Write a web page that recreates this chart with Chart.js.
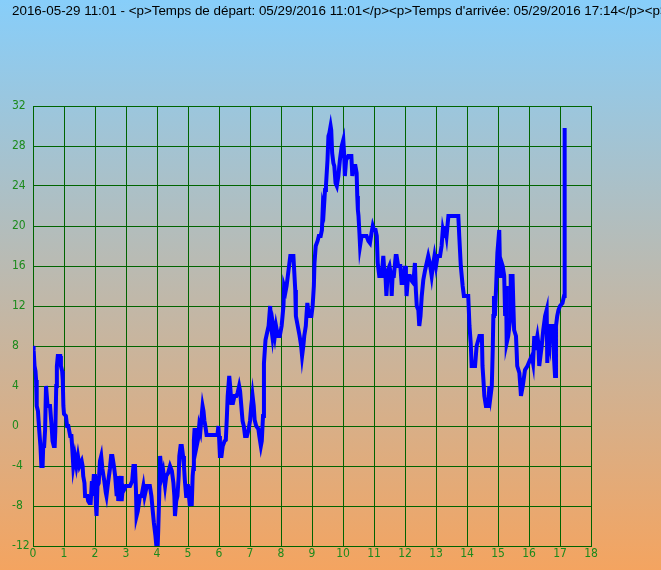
<!DOCTYPE html>
<html>
<head>
<meta charset="utf-8">
<script src="https://cdn.jsdelivr.net/npm/chart.js@4/dist/chart.umd.min.js"></script>
<style>
    html, body { margin: 0; padding: 0; background: #f4a460; }
    #wrap { width: 661px; height: 570px; }
</style>
</head>
<body>
<div id="wrap"><canvas id="chart" width="661" height="570"></canvas></div>
<script>
// ----- DATA -----
const titleText = "2016-05-29 11:01 - <p>Temps de départ: 05/29/2016 11:01</p><p>Temps d'arrivée: 05/29/2016 17:14</p><p>";

// elapsed time in hours
const hours = [
    0.0, 0.02, 0.05, 0.08, 0.1, 0.12, 0.16, 0.2, 0.24, 0.27, 0.31, 0.33, 0.36, 0.39, 0.42, 0.45, 0.47, 0.52, 0.55, 0.6,
    0.63, 0.67, 0.7, 0.72, 0.75, 0.77, 0.8, 0.88, 0.9, 0.94, 0.96, 0.98, 1.0, 1.06, 1.1, 1.14, 1.2, 1.24, 1.27, 1.3,
    1.35, 1.4, 1.45, 1.5, 1.57, 1.6, 1.62, 1.66, 1.68, 1.75, 1.78, 1.82, 1.86, 1.9, 1.92, 1.96, 2.0, 2.03, 2.05, 2.08,
    2.12, 2.16, 2.2, 2.24, 2.3, 2.35, 2.37, 2.42, 2.48, 2.52, 2.56, 2.61, 2.65, 2.7, 2.73, 2.75, 2.8, 2.84, 2.86, 2.9,
    2.95, 3.0, 3.13, 3.2, 3.24, 3.29, 3.32, 3.34, 3.38, 3.45, 3.5, 3.56, 3.6, 3.67, 3.77, 3.82, 3.86, 3.9, 3.95, 3.98,
    4.01, 4.04, 4.08, 4.1, 4.13, 4.16, 4.2, 4.26, 4.3, 4.36, 4.42, 4.48, 4.53, 4.56, 4.58, 4.62, 4.66, 4.7, 4.72, 4.76,
    4.8, 4.84, 4.87, 4.9, 4.94, 4.96, 5.0, 5.03, 5.06, 5.1, 5.12, 5.15, 5.17, 5.19, 5.21, 5.24, 5.28, 5.32, 5.36, 5.4,
    5.44, 5.47, 5.5, 5.53, 5.56, 5.6, 5.66, 5.8, 5.95, 5.98, 6.0, 6.03, 6.08, 6.12, 6.18, 6.22, 6.25, 6.28, 6.33, 6.36,
    6.4, 6.45, 6.5, 6.56, 6.6, 6.65, 6.68, 6.72, 6.76, 6.8, 6.84, 6.9, 6.95, 7.0, 7.04, 7.08, 7.12, 7.15, 7.2, 7.27,
    7.3, 7.35, 7.38, 7.42, 7.45, 7.5, 7.55, 7.6, 7.65, 7.68, 7.72, 7.75, 7.8, 7.84, 7.9, 7.96, 8.02, 8.05, 8.08, 8.1,
    8.15, 8.18, 8.22, 8.26, 8.3, 8.4, 8.43, 8.46, 8.48, 8.54, 8.6, 8.65, 8.68, 8.72, 8.75, 8.8, 8.82, 8.85, 8.9, 8.98,
    9.02, 9.06, 9.08, 9.12, 9.18, 9.22, 9.28, 9.32, 9.35, 9.38, 9.42, 9.45, 9.5, 9.53, 9.56, 9.6, 9.62, 9.65, 9.69, 9.72,
    9.76, 9.8, 9.85, 9.9, 9.93, 9.96, 10.01, 10.04, 10.06, 10.1, 10.17, 10.27, 10.3, 10.35, 10.4, 10.44, 10.46, 10.48, 10.5, 10.53,
    10.55, 10.6, 10.76, 10.82, 10.87, 10.92, 10.96, 11.0, 11.05, 11.09, 11.12, 11.17, 11.25, 11.3, 11.33, 11.37, 11.4, 11.45, 11.5, 11.55,
    11.57, 11.6, 11.64, 11.7, 11.73, 11.78, 11.85, 11.89, 11.95, 12.0, 12.03, 12.05, 12.1, 12.16, 12.22, 12.27, 12.32, 12.35, 12.38, 12.43,
    12.46, 12.5, 12.54, 12.59, 12.65, 12.7, 12.75, 12.8, 12.86, 12.9, 12.95, 13.0, 13.05, 13.13, 13.18, 13.22, 13.26, 13.29, 13.34, 13.4,
    13.72, 13.75, 13.8, 13.86, 13.9, 14.04, 14.08, 14.12, 14.15, 14.26, 14.31, 14.4, 14.48, 14.5, 14.53, 14.56, 14.61, 14.69, 14.72, 14.76,
    14.8, 14.83, 14.85, 14.87, 14.9, 14.94, 14.98, 15.04, 15.07, 15.09, 15.15, 15.2, 15.23, 15.26, 15.28, 15.33, 15.39, 15.41, 15.47, 15.5,
    15.52, 15.58, 15.6, 15.62, 15.69, 15.72, 15.74, 15.8, 15.87, 15.95, 16.03, 16.09, 16.13, 16.17, 16.2, 16.23, 16.27, 16.3, 16.33, 16.37,
    16.41, 16.46, 16.52, 16.57, 16.59, 16.62, 16.66, 16.68, 16.76, 16.79, 16.81, 16.84, 16.87, 16.91, 16.95, 17.0, 17.08, 17.13, 17.15
];

// temperature readings
const temps = [
    8, 7.6, 6, 5.5, 4.6, 2, 1.5, -0.4, -2, -4, -4, -2, -2, -0.4, 4, 4, 2, 2, 2, 0,
    -1.5, -2, -2, -0.5, 4, 6, 7, 7, 6, 5.5, 4.6, 2, 1.2, 1, 0, 0, -1, -1, -2.4, -4,
    -3, -4, -3, -4, -3.5, -4, -5, -5.7, -7, -7, -7.5, -7.7, -7.7, -5.5, -7, -5, -5, -8, -9, -6,
    -5.7, -3.5, -3, -4.3, -5.5, -6.7, -7, -5.7, -4.3, -3, -3, -4, -5, -7, -5, -7.5, -6, -5, -7.5, -6,
    -6.3, -6, -6, -5.5, -4, -4, -6.3, -9, -8.5, -7, -7, -6, -7, -6, -6, -7, -8.4, -9.7, -11, -12,
    -13, -10.4, -6, -3, -4, -5, -4.5, -6, -5, -4.7, -4, -4.5, -5.7, -7, -9, -7.5, -7, -5, -3, -2,
    -2, -3, -4, -5.5, -7, -6, -6, -7, -8, -6.5, -8, -5, -4.3, -1.4, -0.4, -0.4, -2, -1.4, 0, -0.5,
    1, 2, 1.5, 0.5, 0, -0.9, -0.9, -0.9, -0.9, 0, -1, -3, -3, -2, -1.5, -1.4, 0.6, 3, 5, 4,
    2.3, 2.3, 3, 3, 3.3, 4, 3.5, 2, 0.5, 0, -1, -1, -0.4, 0.5, 2, 3.1, 2, 0.6, 0, -0.3,
    -1, -2, -1.5, 1, 6.3, 8.6, 9.3, 10, 12, 10, 9, 10, 9, 10, 9, 9, 10, 11, 12, 14,
    13.5, 14, 15, 16, 17, 17, 15.3, 13.6, 11, 10, 9, 8, 7, 8, 9, 10, 11, 12.3, 11, 11,
    12, 14, 16.3, 18, 18.5, 19, 19, 19.6, 22, 21.6, 23.6, 24, 26.6, 29, 29.3, 30, 29.6, 27.3, 26.3, 26,
    24.3, 24, 25, 26.6, 27.3, 28, 28.6, 27, 25, 26.6, 27, 27, 25, 26, 26, 25.3, 23, 21.6, 21, 19.3,
    18, 19, 19, 18.5, 18.3, 19.3, 20, 19.6, 19.6, 19, 16.3, 15, 15, 17, 15.6, 15, 13, 15.6, 16, 15,
    13, 15, 15, 17, 17, 16, 16, 14.3, 14.3, 16, 15, 13, 15, 15, 14.5, 14.3, 16.3, 13.6, 12, 11.6,
    10, 11, 13, 14.6, 15.6, 16.3, 17, 16.3, 15, 16, 17, 16, 17, 17, 18, 19.6, 19, 20, 19, 21,
    21, 19, 16, 14, 13, 13, 10, 8.3, 6, 6, 8, 9, 9, 6, 4.6, 3, 2, 2, 4, 3,
    4, 7.6, 11, 13, 11, 14, 17.3, 19.6, 15, 16.6, 16, 15, 11, 14, 8.3, 9, 10.6, 15, 15, 11.6,
    9.6, 9, 7.6, 6, 5.3, 4, 3, 4, 5.6, 6, 6.6, 7, 6.3, 9, 7.6, 8.3, 9, 8.3, 6, 7,
    8, 9.6, 11, 11.6, 6.3, 9, 8.3, 10, 10, 8.3, 6.6, 5, 10, 11, 11.6, 12, 12.3, 13, 29.8
];

const xMin = 0, xMax = 18, xStep = 1;
const yMin = -12, yMax = 32, yStep = 4;

// ----- STYLE -----
const gridColor = '#006400';
const tickColor = '#1c8a1c';
const tickFont = { family: "'DejaVu Sans Condensed', 'DejaVu Sans', sans-serif", size: 12 };

// gradient behind everything
const backgroundPlugin = {
    id: 'gradientBg',
    beforeDraw(chart) {
        const { ctx, width, height } = chart;
        const grad = ctx.createLinearGradient(0, 0, 0, height);
        grad.addColorStop(0, '#87cefa');
        grad.addColorStop(1, '#f4a460');
        ctx.save();
        ctx.fillStyle = grad;
        ctx.fillRect(0, 0, width, height);
        ctx.restore();
    }
};

// header line: drawn without maxWidth so it runs off the right edge like the original
const headerPlugin = {
    id: 'header',
    afterDraw(chart) {
        const ctx = chart.ctx;
        ctx.save();
        ctx.font = "13.4px 'Liberation Sans', Arial, sans-serif";
        ctx.fillStyle = '#000000';
        ctx.textAlign = 'left';
        ctx.textBaseline = 'middle';
        ctx.fillText(titleText, 12, 11);
        ctx.restore();
    }
};

const points = hours.map((h, i) => ({ x: h, y: temps[i] }));

new Chart(document.getElementById('chart'), {
    type: 'scatter',
    data: {
        datasets: [{
            data: points,
            showLine: true,
            borderColor: '#0000ff',
            borderWidth: 4,
            pointRadius: 0,
            tension: 0,
            borderJoinStyle: 'miter',
            borderCapStyle: 'butt'
        }]
    },
    options: {
        responsive: false,
        animation: false,
        layout: { padding: { left: 12, right: 70, top: 106, bottom: 0 } },
        plugins: {
            legend: { display: false },
            tooltip: { enabled: false },
            title: { display: false }
        },
        scales: {
            x: {
                type: 'linear',
                min: xMin,
                max: xMax,
                ticks: { stepSize: xStep, color: tickColor, font: tickFont, padding: 1, maxRotation: 0 },
                grid: { color: gridColor, lineWidth: 1, drawTicks: false },
                border: { color: gridColor, width: 1 },
                afterFit(scale) { scale.height = 24; }
            },
            y: {
                type: 'linear',
                min: yMin,
                max: yMax,
                ticks: { stepSize: yStep, color: tickColor, font: tickFont, crossAlign: 'far', padding: 0 },
                grid: { color: gridColor, lineWidth: 1, drawTicks: false },
                border: { color: gridColor, width: 1 },
                afterFit(scale) { scale.width = 21; }
            }
        }
    },
    plugins: [backgroundPlugin, headerPlugin]
});
</script>
</body>
</html>
